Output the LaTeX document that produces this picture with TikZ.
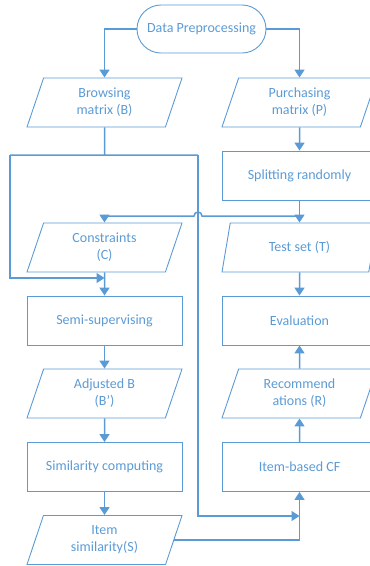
\documentclass[tikz,border=0pt]{standalone}
\usepackage{fontspec}
\setmainfont{Carlito}
\usetikzlibrary{shapes.geometric,arrows.meta,calc}
\definecolor{flowblue}{HTML}{5B9BD5}
\tikzset{
  box/.style={draw=flowblue, line width=0.9pt, minimum width=155pt, minimum height=49pt,
    text=flowblue, align=center, inner sep=2pt, font=\fontsize{14}{17}\selectfont},
  io/.style={box, trapezium, trapezium left angle=63, trapezium right angle=117,
    trapezium stretches body},
  term/.style={box, rounded corners=24pt, minimum width=129pt, minimum height=48pt},
  wire/.style={draw=flowblue, line width=1.5pt},
  flow/.style={wire, -{Triangle[length=8pt,width=10pt]}},
}
\begin{document}
\begin{tikzpicture}[x=1pt,y=-1pt]
\useasboundingbox (0,0) rectangle (370,566);
% left column
\node[term] (start) at (201.5,29) {Data Preprocessing};
\node[io] (B) at (104.5,102.5) {Browsing\\matrix (B)};
\node[io] (C) at (104.5,247.5) {Constraints\\(C)};
\node[box] (semi) at (104.5,320.5) {Semi-supervising};
\node[io] (Badj) at (104.5,393.5) {Adjusted B\\(B’)};
\node[box] (sim) at (104.5,467) {Similarity computing};
\node[io] (S) at (104.5,540) {Item\\similarity(S)};
% right column
\node[io] (P) at (299.5,102.5) {Purchasing\\matrix (P)};
\node[box] (split) at (299.5,175.5) {Splitting randomly};
\node[io] (T) at (299.5,247.5) {Test set (T)};
\node[box] (eval) at (299.5,320.5) {Evaluation};
\node[io] (R) at (299.5,393.5) {Recommend\\ations (R)};
\node[box] (cf) at (299.5,467) {Item-based CF};
% branch points
\coordinate (fork) at (104.5,155);
\coordinate (loopL) at (10,155);
\coordinate (loopR) at (198,155);
\coordinate (joinC) at (104.5,278);
\coordinate (joinCF) at (299.5,516);
\coordinate (tap) at (299.5,216);
\coordinate (hop) at (198,216);
\coordinate (drop) at (104.5,216);
\draw[flow] (start.west) -| (B.north);
\draw[flow] (start.east) -| (P.north);
\draw[flow] (P) -- (split);
\draw[flow] (split) -- (T);
\draw[flow] (T) -- (eval);
\draw[flow] (R) -- (eval);
\draw[flow] (cf) -- (R);
\draw[flow] (C) -- (semi);
\draw[flow] (semi) -- (Badj);
\draw[flow] (Badj) -- (sim);
\draw[flow] (sim) -- (S);
\draw[flow] (S.east) -| (cf.south);
\draw[wire] (B) -- (fork) (loopL) -- (loopR);
\draw[flow] (loopL) |- (joinC);
\draw[flow] (loopR) |- (joinCF);
% jump over the vertical line
\draw[flow] (tap) -- ($(hop)+(4,0)$) arc[start angle=0,end angle=-180,radius=4]
  -- (drop) -- (C);
\end{tikzpicture}
\end{document}
